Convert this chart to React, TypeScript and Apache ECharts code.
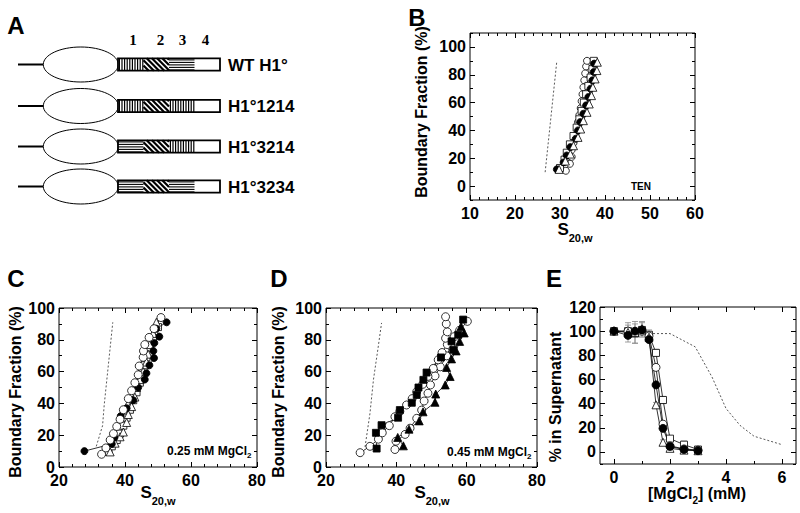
import React, { useEffect, useRef } from "react";
import * as echarts from "echarts";

const FF = '"Liberation Sans", Arial, Helvetica, sans-serif';
const SERIF = '"Liberation Serif", "Times New Roman", serif';

// ---------- Panel A (schematic) ----------
const constructLabels = ["WT H1°", "H1°1214", "H1°3214", "H1°3234"];
const constructPatterns = [
  ["v", "d", "h"],
  ["v", "d", "v"],
  ["h", "d", "v"],
  ["h", "d", "h"],
];
const domainNumbers = ["1", "2", "3", "4"];

// ---------- Panel B (TEN) ----------
const bXLabels = [10, 20, 30, 40, 50, 60];
const bYLabels = [0, 20, 40, 60, 80, 100];
const bDashX = [26.7, 29.3];
const bDashY = [10, 90];
const bOpenCircleX = [31.3, 32.2, 32.6, 32.6, 33, 33.4, 33.8, 34, 34.3, 34.6, 34.8, 35, 35.2, 35.4, 35.6, 35.8, 36];
const bOpenCircleY = [11, 16, 21, 26, 31, 36, 41, 46, 51, 56, 61, 66, 71, 76, 81, 86, 90];
const bFilledCircleX = [29.3, 30.8, 31.5, 32.3, 33.5, 34, 34.5, 35.2, 35.8, 36.3, 36.8, 37.2, 37.5, 37.6];
const bFilledCircleY = [12, 17, 22, 28, 34, 40, 46, 52, 58, 64, 70, 76, 82, 88];
const bTriangleX = [29.8, 31.2, 32.3, 33, 34, 34.6, 35.2, 36, 36.5, 37, 37.3, 37.8, 38.2, 38.3];
const bTriangleY = [12, 18, 23, 29, 35, 41, 47, 53, 59, 65, 71, 77, 83, 89];
const bSquareX = [30, 31, 31.5, 32.2, 33, 33.7, 34.3, 34.8, 35.3, 35.8, 36.3, 36.8, 37.2, 37.5];
const bSquareY = [13, 19, 24, 30, 36, 42, 48, 54, 60, 66, 72, 78, 84, 90];

// ---------- Panel C (0.25 mM MgCl2) ----------
const cXLabels = [20, 40, 60, 80];
const cYLabels = [0, 20, 40, 60, 80, 100];
const cDashX = [31.3, 33.2, 33.7, 35, 36.3];
const cDashY = [13, 26, 39, 65, 91];
const cFilledCircleX = [27.7, 36, 36.8, 38.7, 40.5, 42.5, 44, 46, 46.5, 47.4, 48.8, 48.6, 48.9, 50.4, 49.5, 52.6];
const cFilledCircleY = [10, 14.5, 18.5, 32, 37, 42, 50, 55, 59, 64, 68.5, 73, 78, 82, 87, 91];
const cOpenCircleX = [32.9, 34.2, 35.5, 36.5, 37.5, 38.5, 39.5, 41, 42, 43, 44, 44.3, 45.5, 45.6, 46, 47.3, 48.8, 50.9];
const cOpenCircleY = [8, 12, 17, 21, 25.5, 30, 36, 43, 48, 53, 58, 63.5, 69, 73, 77, 81.5, 87, 94];
const cTriangleX = [35.5, 37, 38.5, 39.5, 40.5, 41, 42, 43, 43.5, 44.5, 45.5, 46.5, 47, 47.5, 48.5, 49.5];
const cTriangleY = [9.5, 15, 19, 22, 28, 33, 38, 44, 50, 55, 60, 66, 71, 77, 84, 91];
const cSquareX = [35, 36, 37.5, 38.5, 39.5, 40.5, 41.5, 42.5, 43.5, 44.5, 45, 46, 46.5, 47.5, 48.5, 50];
const cSquareY = [9.5, 13, 17, 21, 26, 31, 36, 42, 47, 53, 58, 64, 69, 75, 81, 88];

// ---------- Panel D (0.45 mM MgCl2) ----------
const dXLabels = [20, 40, 60, 80];
const dYLabels = [0, 20, 40, 60, 80, 100];
const dDashX = [31.1, 32.5, 33.5, 34.8, 35.8];
const dDashY = [12.6, 33.7, 55, 74.8, 90.6];
const dFilledSquareX = [34.4, 34.2, 35.8, 40.5, 41, 44.4, 45.8, 46.3, 47.7, 48.6, 52.7, 56.2, 55.7, 57.6, 59];
const dFilledSquareY = [11.6, 21.5, 26.3, 31, 35.8, 40.4, 45.3, 50, 54.8, 59.4, 68.9, 73.7, 79, 83.2, 92.7];
const dFilledTriangleX = [42, 40.4, 43.6, 46.5, 47.6, 51, 51.2, 53.9, 55.3, 54.3, 55.7, 57, 58, 59.3, 58.4];
const dFilledTriangleY = [13.3, 18.6, 23.8, 29, 34.7, 40.7, 45.9, 51.6, 56.9, 62.6, 68, 73, 79, 84.3, 88.4];
const dOpenCircle1X = [29.7, 32.5, 34.9, 36, 38, 39.6, 41, 42.9, 44.5, 45.8, 47.5, 49, 50.5, 51.9, 53, 54.5, 54, 54.5, 54.2, 54];
const dOpenCircle1Y = [9, 13, 17.5, 21.5, 26, 31.6, 35, 39, 43, 47.4, 52, 57, 62, 67.4, 72, 77, 81, 85, 90, 94.5];
const dOpenCircle2X = [39.6, 39.9, 42.5, 43.9, 45.8, 47.2, 47.9, 49, 49.7, 51, 52.5, 54.3, 55.5, 56.5, 58, 60.2];
const dOpenCircle2Y = [11, 16.2, 20.5, 24.4, 30.6, 35.8, 41.5, 46.4, 51.6, 57.3, 63, 69.9, 76, 82, 86, 91.6];

// ---------- Panel E (solubility) ----------
const eXLabels = [0, 2, 4, 6];
const eYLabels = [0, 20, 40, 60, 80, 100, 120];
const eMgCl2 = [0, 0.5, 0.75, 1, 1.25, 1.5, 1.75, 2, 2.5, 3];
const eFilledCircle = [100, 96.5, 100, 101, 93, 55.5, 19.5, 4.5, 2, 1];
const eOpenSquare = [100, 100, 98, 101, 97, 82, 43, 11, 6, 2];
const eOpenTriangle = [100, 99, 99, 102, 95, 39, 8, 3, 1.5, 1];
const eOpenCircle = [100, 100, 99, 100, 96, 70, 23, 5, 2.5, 1.5];
const eErrSquare = [0, 5, 8, 6, 4, 3, 3, 2, 3, 1];
const eErrTriangle = [0, 8, 9, 6, 3, 2, 2, 1, 1, 0];
const eDashX = [1.25, 2, 2.9, 3.5, 4, 4.5, 5, 6];
const eDashY = [98, 98, 87, 62, 36, 22, 13, 6];

function range(a: number, b: number, step: number) {
  const out: number[] = [];
  for (let v = a; v <= b + 1e-9; v += step) out.push(Math.round(v * 1000) / 1000);
  return out;
}

function axisSet(dim: "x" | "y", grid: number, min: number, max: number, labels: number[], major: number[], minor: number[]) {
  const positions = dim === "x" ? ["bottom", "top"] : ["left", "right"];
  const res: any[] = [];
  positions.forEach((pos, pi) => {
    [major, minor].forEach((ticks, ti) => {
      res.push({
        type: "value",
        gridIndex: grid,
        position: pos,
        min,
        max,
        axisLine: { show: false, onZero: false },
        splitLine: { show: false },
        axisTick: {
          show: true,
          inside: true,
          length: ti === 0 ? 5 : 3,
          customValues: ticks,
          lineStyle: { color: "#000", width: 1 },
        },
        axisLabel:
          pi === 0 && ti === 0
            ? {
                show: true,
                customValues: labels,
                color: "#000",
                fontFamily: FF,
                fontWeight: "bold",
                fontSize: 16,
                margin: dim === "x" ? 5 : 4,
              }
            : { show: false },
      });
    });
  });
  return res;
}

function pts(xs: number[], ys: number[]) {
  return xs.map((x, i) => [x, ys[i]]);
}

function markerSeries(grid: number, data: number[][], symbol: string, filled: boolean, size: number) {
  return {
    type: "line",
    xAxisIndex: 4 * grid,
    yAxisIndex: 4 * grid,
    data,
    symbol,
    symbolSize: size,
    showSymbol: true,
    lineStyle: { color: "#000", width: 0.8 },
    itemStyle: filled
      ? { color: "#000", borderColor: "#000", borderWidth: 0.8 }
      : { color: "#fff", borderColor: "#000", borderWidth: 0.8 },
    z: 3,
  };
}

function dashSeries(grid: number, data: number[][]) {
  return {
    type: "line",
    xAxisIndex: 4 * grid,
    yAxisIndex: 4 * grid,
    data,
    symbol: "none",
    lineStyle: { color: "#444", width: 0.9, type: [2, 2] },
    z: 2,
  };
}

function errorSeries(grid: number, xs: number[], ys: number[], errs: number[]) {
  return {
    type: "custom",
    xAxisIndex: 4 * grid,
    yAxisIndex: 4 * grid,
    data: xs.map((x, i) => [x, ys[i], errs[i]]),
    encode: { x: 0, y: 1 },
    z: 1,
    renderItem: (params: any, api: any) => {
      const x = api.value(0);
      const y = api.value(1);
      const e = api.value(2);
      if (!e) return null;
      const t = api.coord([x, y + e]);
      const b = api.coord([x, y - e]);
      const st = { stroke: "#888", lineWidth: 0.8 };
      return {
        type: "group",
        children: [
          { type: "line", shape: { x1: t[0], y1: t[1], x2: b[0], y2: b[1] }, style: st },
          { type: "line", shape: { x1: t[0] - 3, y1: t[1], x2: t[0] + 3, y2: t[1] }, style: st },
          { type: "line", shape: { x1: b[0] - 3, y1: b[1], x2: b[0] + 3, y2: b[1] }, style: st },
        ],
      };
    },
  };
}

function text(x: number, y: number, t: string, font: string, align = "center", extra: any = {}) {
  return {
    type: "text",
    x,
    y,
    ...extra,
    style: {
      text: t,
      font,
      fill: "#000",
      textAlign: align,
      textVerticalAlign: "middle",
      align,
      verticalAlign: "middle",
    },
  };
}

function richText(x: number, y: number, t: string, rich: any, align = "center") {
  return {
    type: "text",
    x,
    y,
    style: {
      text: t,
      rich,
      fill: "#000",
      textAlign: align,
      textVerticalAlign: "middle",
      align,
      verticalAlign: "middle",
    },
  };
}

const subRich = (big: number, small: number, drop: number) => ({
  s: { fontSize: big, fontWeight: "bold", fontFamily: FF, color: "#000", verticalAlign: "top", lineHeight: big + drop },
  sub: { fontSize: small, fontWeight: "bold", fontFamily: FF, color: "#000", verticalAlign: "bottom", lineHeight: small },
});

function panelA() {
  const els: any[] = [];
  const rowY = [64.5, 106, 146.5, 186.5];
  const segX = [118, 143.5, 169, 194.5, 220];
  const h = 12.4;
  const numX = [133, 160.5, 182.5, 205.5];
  domainNumbers.forEach((n, i) => els.push(text(numX[i], 39.5, n, `bold 15px ${SERIF}`)));
  rowY.forEach((cy, r) => {
    els.push({ type: "line", shape: { x1: 18, y1: cy, x2: 43.5, y2: cy }, style: { stroke: "#000", lineWidth: 2 } });
    els.push({ type: "ellipse", shape: { cx: 80.8, cy, rx: 37.5, ry: 17.5 }, style: { fill: "#fff", stroke: "#000", lineWidth: 1 } });
    const top = cy - h / 2;
    const bot = cy + h / 2;
    els.push({ type: "rect", shape: { x: segX[0], y: top, width: segX[4] - segX[0], height: h }, style: { fill: "#fff" } });
    constructPatterns[r].forEach((p, s) => {
      const x0 = segX[s];
      const x1 = segX[s + 1];
      if (p === "v") {
        for (let x = x0 + 1.4; x < x1; x += 2.6)
          els.push({ type: "line", shape: { x1: x, y1: top, x2: x, y2: bot }, style: { stroke: "#000", lineWidth: 1.2 } });
      } else if (p === "h") {
        for (let y = top + 1.6; y < bot; y += 2.5)
          els.push({ type: "line", shape: { x1: x0, y1: y, x2: x1, y2: y }, style: { stroke: "#000", lineWidth: 1.1 } });
      } else {
        const hh = bot - top;
        for (let a = x0 - hh; a < x1; a += 5.2) {
          const tMin = Math.max(0, (x0 - a) / hh);
          const tMax = Math.min(1, (x1 - a) / hh);
          if (tMax <= tMin) continue;
          els.push({
            type: "line",
            shape: { x1: a + tMin * hh, y1: top + tMin * hh, x2: a + tMax * hh, y2: top + tMax * hh },
            style: { stroke: "#000", lineWidth: 2.2 },
          });
        }
      }
    });
    els.push({
      type: "rect",
      shape: { x: segX[0], y: top, width: segX[4] - segX[0], height: h },
      style: { fill: "none", stroke: "#000", lineWidth: 1.8 },
    });
    els.push(text(228, cy + 0.5, constructLabels[r], `bold 17px ${FF}`, "left"));
  });
  return els;
}

export default function App() {
  const ref = useRef<HTMLDivElement>(null);
  useEffect(() => {
    document.body.style.margin = "0";
    if (!ref.current) return;
    const chart = echarts.init(ref.current, null, { renderer: "svg" });

    const xAxes = [
      ...axisSet("x", 0, 10, 60, bXLabels, bXLabels, range(10, 60, 2)),
      ...axisSet("x", 1, 20, 80, cXLabels, cXLabels, range(20, 80, 4)),
      ...axisSet("x", 2, 20, 80, dXLabels, dXLabels, range(20, 80, 4)),
      ...axisSet("x", 3, -0.5, 6.5, eXLabels, eXLabels, range(0, 6, 1)),
    ];
    const yAxes = [
      ...axisSet("y", 0, -10, 110, bYLabels, bYLabels, range(-10, 110, 10)),
      ...axisSet("y", 1, 0, 100, cYLabels, cYLabels, range(0, 100, 10)),
      ...axisSet("y", 2, 0, 100, dYLabels, dYLabels, range(0, 100, 10)),
      ...axisSet("y", 3, -10, 120, eYLabels, eYLabels, range(-10, 120, 10)),
    ];

    const gridStyle = { show: true, borderColor: "#000", borderWidth: 1, backgroundColor: "transparent", containLabel: false };
    const titleFont = `bold 16px ${FF}`;

    const option: any = {
      animation: false,
      backgroundColor: "#fff",
      grid: [
        { ...gridStyle, left: 470, top: 33, width: 225, height: 167 },
        { ...gridStyle, left: 59, top: 308, width: 198, height: 159 },
        { ...gridStyle, left: 326, top: 308, width: 211, height: 159 },
        { ...gridStyle, left: 600, top: 307, width: 196, height: 157 },
      ],
      xAxis: xAxes,
      yAxis: yAxes,
      series: [
        // B
        dashSeries(0, pts(bDashX, bDashY)),
        markerSeries(0, pts(bOpenCircleX, bOpenCircleY), "circle", false, 7),
        markerSeries(0, pts(bSquareX, bSquareY), "rect", false, 7),
        markerSeries(0, pts(bFilledCircleX, bFilledCircleY), "circle", true, 7),
        markerSeries(0, pts(bTriangleX, bTriangleY), "triangle", false, 8),
        // C
        dashSeries(1, pts(cDashX, cDashY)),
        markerSeries(1, pts(cSquareX, cSquareY), "rect", false, 7),
        markerSeries(1, pts(cTriangleX, cTriangleY), "triangle", false, 8),
        markerSeries(1, pts(cFilledCircleX, cFilledCircleY), "circle", true, 7),
        markerSeries(1, pts(cOpenCircleX, cOpenCircleY), "circle", false, 8),
        // D
        dashSeries(2, pts(dDashX, dDashY)),
        markerSeries(2, pts(dOpenCircle2X, dOpenCircle2Y), "circle", false, 8),
        markerSeries(2, pts(dFilledTriangleX, dFilledTriangleY), "triangle", true, 8),
        markerSeries(2, pts(dOpenCircle1X, dOpenCircle1Y), "circle", false, 8),
        markerSeries(2, pts(dFilledSquareX, dFilledSquareY), "rect", true, 7),
        // E
        dashSeries(3, pts(eDashX, eDashY)),
        errorSeries(3, eMgCl2, eOpenSquare, eErrSquare),
        errorSeries(3, eMgCl2, eOpenTriangle, eErrTriangle),
        markerSeries(3, pts(eMgCl2, eOpenSquare), "rect", false, 7),
        markerSeries(3, pts(eMgCl2, eOpenCircle), "circle", false, 8),
        markerSeries(3, pts(eMgCl2, eOpenTriangle), "triangle", false, 8),
        markerSeries(3, pts(eMgCl2, eFilledCircle), "circle", true, 8),
      ],
      graphic: [
        ...panelA(),
        // panel letters
        text(16, 25, "A", `bold 24px ${FF}`),
        text(417, 17, "B", `bold 24px ${FF}`),
        text(16, 278, "C", `bold 24px ${FF}`),
        text(279, 278, "D", `bold 24px ${FF}`),
        text(554, 278, "E", `bold 24px ${FF}`),
        // y titles
        text(421.5, 112, "Boundary Fraction (%)", titleFont, "center", { rotation: Math.PI / 2 }),
        text(15, 392, "Boundary Fraction (%)", titleFont, "center", { rotation: Math.PI / 2 }),
        text(278.5, 392, "Boundary Fraction (%)", titleFont, "center", { rotation: Math.PI / 2 }),
        text(555, 397, "% in Supernatant", titleFont, "center", { rotation: Math.PI / 2 }),
        // x titles
        richText(575, 232, "{s|S}{sub|20,w}", subRich(17, 11, 5)),
        richText(158, 495, "{s|S}{sub|20,w}", subRich(17, 11, 5)),
        richText(432, 495, "{s|S}{sub|20,w}", subRich(17, 11, 5)),
        richText(697, 495, "{s|[MgCl}{sub|2}{s|] (mM)}", subRich(16, 10, 4)),
        // insets
        text(651, 186, "TEN", `bold 10px ${FF}`, "right"),
        richText(167, 452, "{s|0.25 mM MgCl}{sub|2}", subRich(12, 8, 3), "left"),
        richText(447, 453, "{s|0.45 mM MgCl}{sub|2}", subRich(12, 8, 3), "left"),
      ],
    };
    chart.setOption(option);
    return () => chart.dispose();
  }, []);
  return <div ref={ref} style={{ position: "absolute", left: 0, top: 0, width: 800, height: 513 }} />;
}
